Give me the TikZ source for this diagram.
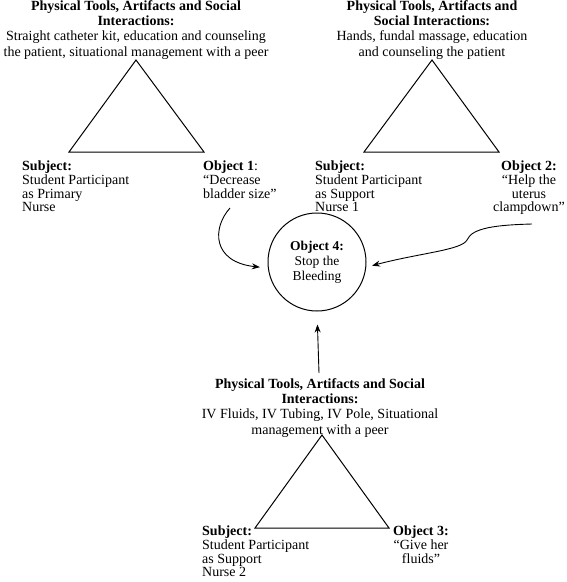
\documentclass[tikz,border=0pt]{standalone}
\usepackage{fontspec}
\setmainfont{Liberation Serif}
\usetikzlibrary{arrows.meta}
\begin{document}
\begin{tikzpicture}[x=1pt,y=-1pt,
  txt/.style={inner sep=0pt, font=\fontsize{14}{15.4}\selectfont},
  ltxt/.style={inner sep=0pt, font=\fontsize{14}{13.6}\selectfont},
  hdr/.style={txt, align=center, anchor=north},
  lbl/.style={ltxt, align=left, anchor=north west},
  lblc/.style={ltxt, align=center, anchor=north},
  tri/.style={draw, line width=1pt, line join=miter},
  arr/.style={draw, line width=0.9pt, -{Stealth[length=8pt,width=6pt]}}]
\useasboundingbox (0,0) rectangle (567,582);
% top-left
\node[hdr] (h1) at (136,0) {\textbf{Physical Tools, Artifacts and Social}\\\textbf{Interactions:}\\Straight catheter kit, education and counseling\\the patient, situational management with a peer};
\draw[tri] (136,60) -- (204,152) -- (69,152) -- cycle;
\node[lbl] (s1) at (22,161) {\textbf{Subject:}\\Student Participant\\as Primary\\Nurse};
\node[lbl] (ob1) at (203,161) {\textbf{Object 1}:\\``Decrease\\bladder size''};
% top-right
\node[hdr] (h2) at (432,0) {\textbf{Physical Tools, Artifacts and}\\\textbf{Social Interactions:}\\Hands, fundal massage, education\\and counseling the patient};
\draw[tri] (432,60) -- (499,152) -- (364,152) -- cycle;
\node[lbl] (s2) at (315,161) {\textbf{Subject:}\\Student Participant\\as Support\\Nurse 1};
\node[lblc] (ob2) at (529,161) {\textbf{Object 2:}\\``Help the\\uterus\\clampdown''};
% center
\node[circle, draw, line width=1pt, minimum size=98pt, inner sep=0pt, txt, font=\fontsize{13.5}{15}\selectfont, align=center] (o4) at (317,262) {\textbf{Object 4:}\\Stop the\\Bleeding};
% bottom
\node[hdr] (h3) at (320,378) {\textbf{Physical Tools, Artifacts and Social}\\\textbf{Interactions:}\\IV Fluids, IV Tubing, IV Pole, Situational\\management with a peer};
\draw[tri] (322,435) -- (389,528) -- (255,528) -- cycle;
\node[lbl] (s3) at (202,526) {\textbf{Subject:}\\Student Participant\\as Support\\Nurse 2};
\node[lblc] (ob3) at (421,526) {\textbf{Object 3:}\\``Give her\\fluids''};
% arrows
\coordinate (a1) at (230,208);
\coordinate (a2) at (532,224);
\coordinate (a3) at (319,373);
\draw[arr, shorten >=8pt] (a1) .. controls (212,228) and (212,262) .. (o4.187);
\draw[arr, shorten >=6pt] (a2) .. controls (495,225) and (472,228) .. (467,240) .. controls (462,250) and (420,253) .. (o4.-6);
\draw[arr, shorten >=13pt] (a3) -- (o4.south);
\end{tikzpicture}
\end{document}
